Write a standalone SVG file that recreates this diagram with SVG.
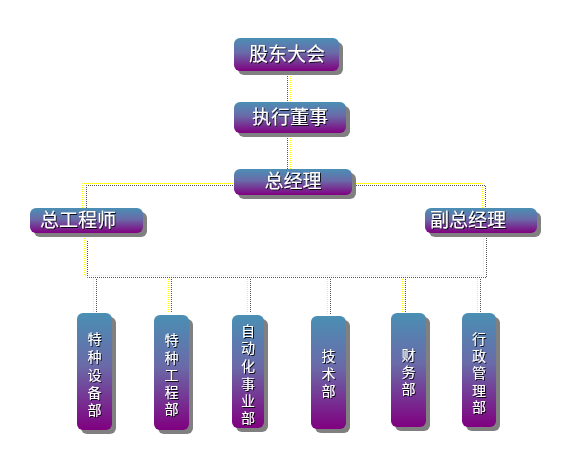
<svg xmlns="http://www.w3.org/2000/svg" width="571" height="466" viewBox="0 0 571 466">
<defs>
<linearGradient id="g" x1="0" y1="0" x2="0" y2="1">
<stop offset="0" stop-color="#4A8FB4"/>
<stop offset="0.45" stop-color="#6A6AA8"/>
<stop offset="1" stop-color="#800080"/>
</linearGradient>
<filter id="ts" x="-20%" y="-20%" width="140%" height="140%">
<feDropShadow dx="1" dy="1" stdDeviation="0" flood-color="#000000" flood-opacity="0.85"/>
</filter>
</defs>
<style>
.box{fill:url(#g);}
.sh{fill:#808080;}
.t{font-family:"Liberation Sans","Noto Sans CJK SC","Noto Sans CJK JP",sans-serif;fill:#ffffff;filter:url(#ts);}
.big{font-size:19px;}
.sm{font-size:14px;}
.y{stroke:#ffff00;stroke-width:1;stroke-dasharray:1 1;fill:none;}
.k{stroke:#555555;stroke-width:1;stroke-dasharray:1 1;fill:none;}
</style>
<rect width="571" height="466" fill="#ffffff"/>
<g id="connectors">
<line class="y" x1="290.5" y1="72" x2="290.5" y2="102"/>
<line class="k" x1="287.5" y1="72" x2="287.5" y2="102"/>
<line class="y" x1="290.5" y1="134" x2="290.5" y2="169"/>
<line class="k" x1="287.5" y1="134" x2="287.5" y2="169"/>
<polyline class="y" points="82.5,208 82.5,183.5 482.5,183.5 482.5,208"/>
<polyline class="k" points="86.5,208 86.5,185.5 485.5,185.5 485.5,208"/>
<polyline class="y" points="84.5,238 84.5,275.5 483.5,275.5 483.5,238"/>
<polyline class="k" points="87.5,241 87.5,277.5 486.5,277.5 486.5,238"/>
<line class="y" x1="93.5" y1="279" x2="93.5" y2="312"/>
<line class="k" x1="96.5" y1="279" x2="96.5" y2="312"/>
<line class="y" x1="168.5" y1="279" x2="168.5" y2="313"/>
<line class="k" x1="171.5" y1="279" x2="171.5" y2="313"/>
<line class="y" x1="247.5" y1="279" x2="247.5" y2="313"/>
<line class="k" x1="250.5" y1="279" x2="250.5" y2="313"/>
<line class="y" x1="327.5" y1="279" x2="327.5" y2="314"/>
<line class="k" x1="330.5" y1="279" x2="330.5" y2="314"/>
<line class="y" x1="402.5" y1="279" x2="402.5" y2="312"/>
<line class="k" x1="405.5" y1="279" x2="405.5" y2="312"/>
<line class="y" x1="477.5" y1="279" x2="477.5" y2="312"/>
<line class="k" x1="480.5" y1="279" x2="480.5" y2="312"/>
</g>
<g id="n1">
<rect class="sh" x="238" y="42" width="105" height="33" rx="6"/>
<rect class="box" x="234" y="38" width="105" height="33" rx="6"/>
<text class="t big" x="287" y="61" text-anchor="middle">股东大会</text>
</g>
<g id="n2">
<rect class="sh" x="238" y="106" width="112" height="31" rx="6"/>
<rect class="box" x="234" y="102" width="112" height="31" rx="6"/>
<text class="t big" x="290" y="124" text-anchor="middle">执行董事</text>
</g>
<g id="n3">
<rect class="sh" x="238" y="173" width="118" height="26" rx="6"/>
<rect class="box" x="234" y="169" width="118" height="26" rx="6"/>
<text class="t big" x="293" y="188" text-anchor="middle">总经理</text>
</g>
<g id="n4">
<rect class="sh" x="34" y="212" width="113" height="25" rx="6"/>
<rect class="box" x="30" y="208" width="113" height="25" rx="6"/>
<text class="t big" x="78" y="227" text-anchor="middle">总工程师</text>
</g>
<g id="n5">
<rect class="sh" x="429" y="212" width="112" height="25" rx="6"/>
<rect class="box" x="425" y="208" width="112" height="25" rx="6"/>
<text class="t big" x="468" y="227" text-anchor="middle">副总经理</text>
</g>
<g id="n6">
<rect class="sh" x="81" y="317" width="35" height="117" rx="6"/>
<rect class="box" x="77" y="313" width="35" height="117" rx="6"/>
<text class="t sm" text-anchor="middle"><tspan x="94.5" y="344">特</tspan><tspan x="94.5" y="362">种</tspan><tspan x="94.5" y="380">设</tspan><tspan x="94.5" y="398">备</tspan><tspan x="94.5" y="415">部</tspan></text>
</g>
<g id="n7">
<rect class="sh" x="158" y="319" width="35" height="115" rx="6"/>
<rect class="box" x="154" y="315" width="35" height="115" rx="6"/>
<text class="t sm" text-anchor="middle"><tspan x="171.5" y="345">特</tspan><tspan x="171.5" y="363">种</tspan><tspan x="171.5" y="380">工</tspan><tspan x="171.5" y="397">程</tspan><tspan x="171.5" y="414">部</tspan></text>
</g>
<g id="n8">
<rect class="sh" x="236" y="319" width="32" height="113" rx="6"/>
<rect class="box" x="232" y="315" width="32" height="113" rx="6"/>
<text class="t sm" text-anchor="middle"><tspan x="248" y="336">自</tspan><tspan x="248" y="353">动</tspan><tspan x="248" y="371">化</tspan><tspan x="248" y="389">事</tspan><tspan x="248" y="406">业</tspan><tspan x="248" y="423">部</tspan></text>
</g>
<g id="n9">
<rect class="sh" x="315" y="320" width="35" height="113" rx="6"/>
<rect class="box" x="311" y="316" width="35" height="113" rx="6"/>
<text class="t sm" text-anchor="middle"><tspan x="328.5" y="361">技</tspan><tspan x="328.5" y="379">术</tspan><tspan x="328.5" y="396">部</tspan></text>
</g>
<g id="n10">
<rect class="sh" x="395" y="317" width="35" height="114" rx="6"/>
<rect class="box" x="391" y="313" width="35" height="114" rx="6"/>
<text class="t sm" text-anchor="middle"><tspan x="408.5" y="360">财</tspan><tspan x="408.5" y="377">务</tspan><tspan x="408.5" y="394">部</tspan></text>
</g>
<g id="n11">
<rect class="sh" x="466" y="317" width="34" height="114" rx="6"/>
<rect class="box" x="462" y="313" width="34" height="114" rx="6"/>
<text class="t sm" text-anchor="middle"><tspan x="479" y="344">行</tspan><tspan x="479" y="361">政</tspan><tspan x="479" y="378">管</tspan><tspan x="479" y="396">理</tspan><tspan x="479" y="412">部</tspan></text>
</g>
</svg>
